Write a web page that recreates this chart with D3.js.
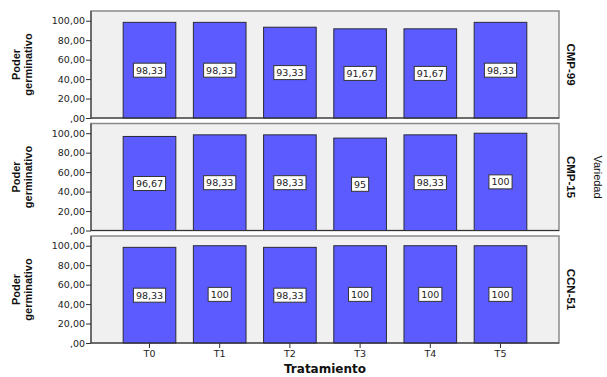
<!DOCTYPE html>
<html><head><meta charset="utf-8">
<script src="https://cdn.jsdelivr.net/npm/d3@7"></script>
<style>body{margin:0;background:#fff}svg{display:block;font-family:"DejaVu Sans",Verdana,sans-serif}</style>
</head><body><svg id="c" width="607" height="377"></svg>
<script>
const categories = ["T0","T1","T2","T3","T4","T5"];
const varieties = ["CMP-99","CMP-15","CCN-51"];
const cmp99 = [98.33,98.33,93.33,91.67,91.67,98.33];
const cmp15 = [96.67,98.33,98.33,95,98.33,100];
const ccn51 = [98.33,100,98.33,100,100,100];
const yTicks = [0,20,40,60,80,100];
const series = [cmp99, cmp15, ccn51];

const svg = d3.select("#c");
const frameL = 91, frameR = 559;
const panelTops = [11, 123.5, 236];
const ph = 107;
const x = d3.scaleBand().domain(categories).range([114.4,535.6]).paddingInner(0.25).paddingOuter(0.125);
const fmtTick = v => v===0 ? ",00" : d3.format(".2f")(v).replace(".",",");
const fmtVal = v => Number.isInteger(v) ? String(v) : d3.format(".2f")(v).replace(".",",");
const sansA = "Liberation Sans, Arial, sans-serif";
const sansV = "DejaVu Sans, Verdana, sans-serif";

series.forEach((vals,i)=>{
  const top = panelTops[i];
  const y = d3.scaleLinear().domain([0,110]).range([top+ph, top]);
  const g = svg.append("g");
  g.append("rect").attr("x",frameL).attr("y",top).attr("width",frameR-frameL).attr("height",ph)
    .attr("fill","#f0f0f0").attr("stroke","#8a8a8a").attr("stroke-width",1.5);
  g.selectAll(".bar").data(vals).join("rect")
    .attr("x",(d,j)=>x(categories[j])).attr("width",x.bandwidth())
    .attr("y",d=>y(d)).attr("height",d=>y(0)-y(d))
    .attr("fill","#5b5bff").attr("stroke","#2a2a3a").attr("stroke-width",1);
  g.append("line").attr("x1",frameL).attr("x2",frameR).attr("y1",y(0)).attr("y2",y(0)).attr("stroke","#333").attr("stroke-width",1);
  g.append("line").attr("x1",frameL).attr("x2",frameL).attr("y1",top).attr("y2",top+ph).attr("stroke","#333").attr("stroke-width",1);
  const ax = g.append("g").attr("transform",`translate(${frameL},0)`)
    .call(d3.axisLeft(y).tickValues(yTicks).tickFormat(fmtTick).tickSize(5).tickPadding(1));
  ax.select(".domain").remove();
  ax.selectAll("text").attr("font-size",9.5).attr("fill","#222").attr("font-family",sansV);
  ax.selectAll("line").attr("stroke","#333");
  vals.forEach((v,j)=>{
    const cx = x(categories[j]) + x.bandwidth()/2, cy = y(v/2);
    const t = fmtVal(v);
    const t0 = g.append("text").attr("x",cx).attr("y",cy+3.5).attr("text-anchor","middle")
      .attr("font-size",9.5).attr("font-family",sansV).attr("fill","#222").text(t);
    const bb = t0.node().getBBox();
    g.insert("rect", () => t0.node()).attr("x",bb.x-2.5).attr("y",cy-7).attr("width",bb.width+5).attr("height",14)
      .attr("fill","#fff").attr("stroke","#333").attr("stroke-width",1);
  });
  const cy = top + ph/2;
  const tt = g.append("text").attr("transform",`translate(20,${cy}) rotate(-90)`).attr("text-anchor","middle")
    .attr("font-size",11).attr("font-weight","bold").attr("font-family",sansA).attr("fill","#111");
  tt.append("tspan").attr("x",0).attr("dy",0).text("Poder");
  tt.append("tspan").attr("x",0).attr("dy",12).text("germinativo");
  g.append("text").attr("transform",`translate(567,${cy}) rotate(90)`).attr("text-anchor","middle")
    .attr("font-size",11.5).attr("font-weight","bold").attr("font-family",sansA).attr("fill","#111").text(varieties[i]);
  if(i===2){
    const xa = g.append("g").attr("transform",`translate(0,${top+ph})`).call(d3.axisBottom(x).tickSize(5).tickPadding(2));
    xa.select(".domain").remove();
    xa.selectAll("text").attr("font-size",9.5).attr("fill","#222").attr("font-family",sansV);
    xa.selectAll("line").attr("stroke","#333");
  }
});
svg.append("text").attr("x",325).attr("y",373).attr("text-anchor","middle").attr("font-size",12)
  .attr("font-weight","bold").attr("font-family",sansV).attr("fill","#111").text("Tratamiento");
svg.append("text").attr("transform",`translate(594,${panelTops[1]+ph/2}) rotate(90)`).attr("text-anchor","middle")
  .attr("font-size",11).attr("font-family",sansA).attr("fill","#111").text("Variedad");
</script></body></html>
